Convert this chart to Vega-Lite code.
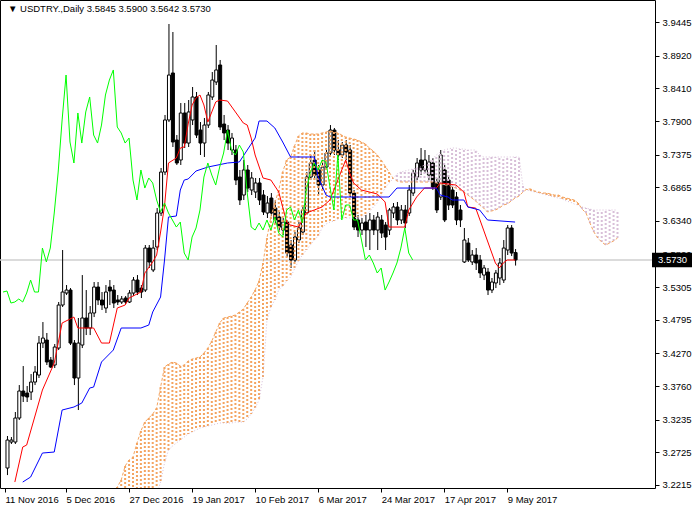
{
"$schema":"https://vega.github.io/schema/vega-lite/v6.json",
"width":655,"height":488,
"autosize":{"type":"none"},
"padding":{"left":0,"top":0,"right":45,"bottom":20},
"background":"white",
"config":{"view":{"stroke":"#000000","strokeWidth":1},"font":"Liberation Sans",
 "axis":{"grid":false,"domain":false,"tickSize":4,"tickColor":"#000000","labelColor":"#000000","labelFont":"Liberation Sans","labelFontSize":9.5,"labelBound":false,"labelOverlap":false,"labelFlush":false}},
"datasets":{
"last":[{"p":3.573,"t":"3.5730"}],
"head":[{"t":"▼  USDTRY.,Daily  3.5845 3.5900 3.5642 3.5730"}],
"candles":[
{"i":1,"o":3.2480,"c":3.2917,"h":3.2980,"l":3.2370},
{"i":2,"o":3.2886,"c":3.2917,"h":3.2964,"l":3.2855},
{"i":3,"o":3.2886,"c":3.3261,"h":3.3355,"l":3.2855},
{"i":4,"o":3.3261,"c":3.3683,"h":3.3776,"l":3.3230},
{"i":5,"o":3.3683,"c":3.3604,"h":3.4073,"l":3.3511},
{"i":6,"o":3.3651,"c":3.3589,"h":3.3761,"l":3.3511},
{"i":7,"o":3.3667,"c":3.3823,"h":3.3948,"l":3.3542},
{"i":8,"o":3.3823,"c":3.3979,"h":3.4073,"l":3.3776},
{"i":9,"o":3.3932,"c":3.4432,"h":3.4542,"l":3.3886},
{"i":10,"o":3.4432,"c":3.4510,"h":3.4760,"l":3.4354},
{"i":11,"o":3.4479,"c":3.4136,"h":3.4589,"l":3.4089},
{"i":12,"o":3.4167,"c":3.4057,"h":3.4214,"l":3.4042},
{"i":13,"o":3.4089,"c":3.4370,"h":3.4417,"l":3.4042},
{"i":14,"o":3.4354,"c":3.5026,"h":3.5073,"l":3.4323},
{"i":15,"o":3.5026,"c":3.5229,"h":3.5885,"l":3.4995},
{"i":16,"o":3.5213,"c":3.5260,"h":3.5338,"l":3.5182},
{"i":17,"o":3.5260,"c":3.4432,"h":3.5291,"l":3.4401},
{"i":18,"o":3.4432,"c":3.3886,"h":3.4479,"l":3.3776},
{"i":19,"o":3.3886,"c":3.4432,"h":3.4823,"l":3.3386},
{"i":20,"o":3.4401,"c":3.4823,"h":3.5494,"l":3.4354},
{"i":21,"o":3.4823,"c":3.4667,"h":3.5260,"l":3.4557},
{"i":22,"o":3.4667,"c":3.4901,"h":3.5010,"l":3.4557},
{"i":23,"o":3.4901,"c":3.5307,"h":3.5385,"l":3.4838},
{"i":24,"o":3.5307,"c":3.5104,"h":3.5385,"l":3.5026},
{"i":25,"o":3.5104,"c":3.5026,"h":3.5229,"l":3.4948},
{"i":26,"o":3.4979,"c":3.5229,"h":3.5338,"l":3.4901},
{"i":27,"o":3.5307,"c":3.5245,"h":3.5416,"l":3.5026},
{"i":28,"o":3.5260,"c":3.5057,"h":3.5338,"l":3.4979},
{"i":29,"o":3.5104,"c":3.5073,"h":3.5182,"l":3.5026},
{"i":30,"o":3.5073,"c":3.5120,"h":3.5166,"l":3.5042},
{"i":31,"o":3.5135,"c":3.5073,"h":3.5166,"l":3.5042},
{"i":32,"o":3.5073,"c":3.5213,"h":3.5260,"l":3.5057},
{"i":33,"o":3.5213,"c":3.5416,"h":3.5463,"l":3.5166},
{"i":34,"o":3.5416,"c":3.5229,"h":3.5494,"l":3.5182},
{"i":35,"o":3.5291,"c":3.5229,"h":3.5338,"l":3.5135},
{"i":36,"o":3.5260,"c":3.5916,"h":3.5963,"l":3.5229},
{"i":37,"o":3.5916,"c":3.5698,"h":3.5963,"l":3.5604},
{"i":38,"o":3.5573,"c":3.5916,"h":3.6041,"l":3.5541},
{"i":39,"o":3.5932,"c":3.6463,"h":3.6541,"l":3.5885},
{"i":40,"o":3.6463,"c":3.7103,"h":3.7166,"l":3.6416},
{"i":41,"o":3.7103,"c":3.7916,"h":3.7994,"l":3.7056},
{"i":42,"o":3.7916,"c":3.8618,"h":3.9415,"l":3.7884},
{"i":43,"o":3.8650,"c":3.7572,"h":3.9290,"l":3.7494},
{"i":44,"o":3.7603,"c":3.7244,"h":3.7681,"l":3.7213},
{"i":45,"o":3.7291,"c":3.8025,"h":3.8181,"l":3.7213},
{"i":46,"o":3.8025,"c":3.7556,"h":3.8181,"l":3.7478},
{"i":47,"o":3.7556,"c":3.8041,"h":3.8228,"l":3.7494},
{"i":48,"o":3.7916,"c":3.8275,"h":3.8431,"l":3.7837},
{"i":49,"o":3.8275,"c":3.7681,"h":3.8353,"l":3.7634},
{"i":50,"o":3.7759,"c":3.7556,"h":3.7884,"l":3.7369},
{"i":51,"o":3.7556,"c":3.7837,"h":3.7947,"l":3.7338},
{"i":52,"o":3.7837,"c":3.8306,"h":3.8353,"l":3.7791},
{"i":53,"o":3.8275,"c":3.8540,"h":3.8665,"l":3.8228},
{"i":54,"o":3.8509,"c":3.8697,"h":3.9087,"l":3.8462},
{"i":55,"o":3.8775,"c":3.7806,"h":3.8853,"l":3.7759},
{"i":56,"o":3.7853,"c":3.7713,"h":3.7994,"l":3.7603},
{"i":57,"o":3.7759,"c":3.7556,"h":3.7837,"l":3.7447},
{"i":58,"o":3.7447,"c":3.7634,"h":3.7713,"l":3.7369},
{"i":59,"o":3.7447,"c":3.6978,"h":3.7525,"l":3.6900},
{"i":60,"o":3.7025,"c":3.6666,"h":3.7135,"l":3.6588},
{"i":61,"o":3.6744,"c":3.7135,"h":3.7291,"l":3.6666},
{"i":62,"o":3.7135,"c":3.6853,"h":3.7213,"l":3.6791},
{"i":63,"o":3.6822,"c":3.7010,"h":3.7103,"l":3.6744},
{"i":64,"o":3.6791,"c":3.6932,"h":3.7010,"l":3.6697},
{"i":65,"o":3.6932,"c":3.6666,"h":3.7010,"l":3.6588},
{"i":66,"o":3.6744,"c":3.6479,"h":3.6822,"l":3.6432},
{"i":67,"o":3.6463,"c":3.6619,"h":3.6728,"l":3.6385},
{"i":68,"o":3.6697,"c":3.6463,"h":3.6775,"l":3.6416},
{"i":69,"o":3.6541,"c":3.6354,"h":3.6666,"l":3.6291},
{"i":70,"o":3.6400,"c":3.6244,"h":3.6479,"l":3.6166},
{"i":71,"o":3.6197,"c":3.6322,"h":3.6385,"l":3.6119},
{"i":72,"o":3.6322,"c":3.5838,"h":3.6354,"l":3.5776},
{"i":73,"o":3.5963,"c":3.5729,"h":3.6041,"l":3.5604},
{"i":74,"o":3.5729,"c":3.6088,"h":3.6166,"l":3.5698},
{"i":75,"o":3.6041,"c":3.6229,"h":3.6322,"l":3.5994},
{"i":76,"o":3.6166,"c":3.6510,"h":3.6588,"l":3.6119},
{"i":77,"o":3.6463,"c":3.7025,"h":3.7103,"l":3.6432},
{"i":78,"o":3.7025,"c":3.7244,"h":3.7369,"l":3.6978},
{"i":79,"o":3.7291,"c":3.7056,"h":3.7447,"l":3.6978},
{"i":80,"o":3.7135,"c":3.6900,"h":3.7213,"l":3.6744},
{"i":81,"o":3.6900,"c":3.7181,"h":3.7291,"l":3.6822},
{"i":82,"o":3.7181,"c":3.7400,"h":3.7478,"l":3.7135},
{"i":83,"o":3.7400,"c":3.7759,"h":3.7837,"l":3.7353},
{"i":84,"o":3.7759,"c":3.7447,"h":3.7791,"l":3.7369},
{"i":85,"o":3.7447,"c":3.7369,"h":3.7603,"l":3.7291},
{"i":86,"o":3.7369,"c":3.7525,"h":3.7572,"l":3.7322},
{"i":87,"o":3.7525,"c":3.7416,"h":3.7603,"l":3.7291},
{"i":88,"o":3.7447,"c":3.6775,"h":3.7525,"l":3.6713},
{"i":89,"o":3.6775,"c":3.6244,"h":3.6822,"l":3.6197},
{"i":90,"o":3.6354,"c":3.6197,"h":3.6432,"l":3.6088},
{"i":91,"o":3.6197,"c":3.6307,"h":3.6385,"l":3.6119},
{"i":92,"o":3.6322,"c":3.6197,"h":3.6432,"l":3.5932},
{"i":93,"o":3.6197,"c":3.6354,"h":3.6463,"l":3.5885},
{"i":94,"o":3.6354,"c":3.6197,"h":3.6432,"l":3.6119},
{"i":95,"o":3.6197,"c":3.6400,"h":3.6479,"l":3.5885},
{"i":96,"o":3.6354,"c":3.6151,"h":3.6432,"l":3.6072},
{"i":97,"o":3.6275,"c":3.6088,"h":3.6322,"l":3.5885},
{"i":98,"o":3.6197,"c":3.6510,"h":3.6541,"l":3.6119},
{"i":99,"o":3.6463,"c":3.6557,"h":3.6619,"l":3.6385},
{"i":100,"o":3.6557,"c":3.6354,"h":3.6635,"l":3.6275},
{"i":101,"o":3.6354,"c":3.6510,"h":3.6588,"l":3.6291},
{"i":102,"o":3.6510,"c":3.6307,"h":3.6588,"l":3.6229},
{"i":103,"o":3.6463,"c":3.6822,"h":3.6900,"l":3.6416},
{"i":104,"o":3.6775,"c":3.7088,"h":3.7135,"l":3.6728},
{"i":105,"o":3.7025,"c":3.7244,"h":3.7322,"l":3.6978},
{"i":106,"o":3.7291,"c":3.7135,"h":3.7478,"l":3.7056},
{"i":107,"o":3.7135,"c":3.7291,"h":3.7447,"l":3.7088},
{"i":108,"o":3.7056,"c":3.7260,"h":3.7369,"l":3.6978},
{"i":109,"o":3.7244,"c":3.6869,"h":3.7322,"l":3.6822},
{"i":110,"o":3.6947,"c":3.6510,"h":3.7010,"l":3.6463},
{"i":111,"o":3.6713,"c":3.7369,"h":3.7447,"l":3.6666},
{"i":112,"o":3.7135,"c":3.6354,"h":3.7213,"l":3.6322},
{"i":113,"o":3.6978,"c":3.6588,"h":3.7056,"l":3.6510},
{"i":114,"o":3.6822,"c":3.6588,"h":3.6900,"l":3.6541},
{"i":115,"o":3.6713,"c":3.6354,"h":3.6791,"l":3.6275},
{"i":116,"o":3.6510,"c":3.6354,"h":3.6588,"l":3.6244},
{"i":117,"o":3.5698,"c":3.6041,"h":3.6229,"l":3.5682},
{"i":118,"o":3.5994,"c":3.5729,"h":3.6072,"l":3.5698},
{"i":119,"o":3.5698,"c":3.5807,"h":3.5885,"l":3.5651},
{"i":120,"o":3.5807,"c":3.5682,"h":3.5916,"l":3.5573},
{"i":121,"o":3.5729,"c":3.5526,"h":3.5807,"l":3.5448},
{"i":122,"o":3.5494,"c":3.5604,"h":3.5651,"l":3.5416},
{"i":123,"o":3.5541,"c":3.5260,"h":3.5604,"l":3.5182},
{"i":124,"o":3.5260,"c":3.5385,"h":3.5448,"l":3.5213},
{"i":125,"o":3.5370,"c":3.5526,"h":3.5573,"l":3.5291},
{"i":126,"o":3.5448,"c":3.5682,"h":3.5760,"l":3.5338},
{"i":127,"o":3.5416,"c":3.5916,"h":3.6041,"l":3.5370},
{"i":128,"o":3.5885,"c":3.6229,"h":3.6275,"l":3.5807},
{"i":129,"o":3.6229,"c":3.5838,"h":3.6275,"l":3.5791},
{"i":130,"o":3.5845,"c":3.5730,"h":3.5900,"l":3.5642}
],
"cloud":[
{"i":28,"a":3.2089,"b":3.1355},{"i":29,"a":3.2183,"b":3.1433},{"i":30,"a":3.2292,"b":3.1511},{"i":31,"a":3.2511,"b":3.1589},
{"i":32,"a":3.2605,"b":3.1668},{"i":33,"a":3.2652,"b":3.1746},{"i":34,"a":3.2870,"b":3.1824},{"i":35,"a":3.3058,"b":3.1902},
{"i":36,"a":3.3198,"b":3.1980},{"i":37,"a":3.3261,"b":3.1980},{"i":38,"a":3.3323,"b":3.1980},{"i":39,"a":3.3417,"b":3.2058},
{"i":40,"a":3.3745,"b":3.2261},{"i":41,"a":3.4057,"b":3.2558},{"i":42,"a":3.4104,"b":3.2761},{"i":43,"a":3.4136,"b":3.2823},
{"i":44,"a":3.4120,"b":3.2870},{"i":45,"a":3.4073,"b":3.2917},{"i":46,"a":3.4089,"b":3.2964},{"i":47,"a":3.4151,"b":3.3011},
{"i":48,"a":3.4182,"b":3.3042},{"i":49,"a":3.4198,"b":3.3073},{"i":50,"a":3.4214,"b":3.3105},{"i":51,"a":3.4276,"b":3.3120},
{"i":52,"a":3.4354,"b":3.3136},{"i":53,"a":3.4464,"b":3.3151},{"i":54,"a":3.4604,"b":3.3167},{"i":55,"a":3.4745,"b":3.3183},
{"i":56,"a":3.4823,"b":3.3183},{"i":57,"a":3.4838,"b":3.3183},{"i":58,"a":3.4854,"b":3.3183},{"i":59,"a":3.4870,"b":3.3198},
{"i":60,"a":3.4917,"b":3.3198},{"i":61,"a":3.4963,"b":3.3198},{"i":62,"a":3.5057,"b":3.3245},{"i":63,"a":3.5151,"b":3.3323},
{"i":64,"a":3.5260,"b":3.3417},{"i":65,"a":3.5401,"b":3.3542},{"i":66,"a":3.5682,"b":3.3901},{"i":67,"a":3.6072,"b":3.4792},
{"i":68,"a":3.6400,"b":3.4995},{"i":69,"a":3.6619,"b":3.5104},{"i":70,"a":3.6822,"b":3.5260},{"i":71,"a":3.7103,"b":3.5323},
{"i":72,"a":3.7291,"b":3.5401},{"i":73,"a":3.7338,"b":3.5463},{"i":74,"a":3.7509,"b":3.5588},{"i":75,"a":3.7666,"b":3.5713},
{"i":76,"a":3.7713,"b":3.5807},{"i":77,"a":3.7713,"b":3.5885},{"i":78,"a":3.7697,"b":3.5963},{"i":79,"a":3.7697,"b":3.6041},
{"i":80,"a":3.7697,"b":3.6104},{"i":81,"a":3.7713,"b":3.6229},{"i":82,"a":3.7728,"b":3.6291},{"i":83,"a":3.7744,"b":3.6322},
{"i":84,"a":3.7728,"b":3.6338},{"i":85,"a":3.7713,"b":3.6369},{"i":86,"a":3.7681,"b":3.6385},{"i":87,"a":3.7650,"b":3.6385},
{"i":88,"a":3.7634,"b":3.6385},{"i":89,"a":3.7619,"b":3.6385},{"i":90,"a":3.7603,"b":3.6400},{"i":91,"a":3.7572,"b":3.6400},
{"i":92,"a":3.7541,"b":3.6432},{"i":93,"a":3.7478,"b":3.6479},{"i":94,"a":3.7431,"b":3.6557},{"i":95,"a":3.7369,"b":3.6619},
{"i":96,"a":3.7291,"b":3.6744},{"i":97,"a":3.7197,"b":3.6853},{"i":98,"a":3.7103,"b":3.6932},{"i":99,"a":3.7010,"b":3.6994},
{"i":100,"a":3.6963,"b":3.7072},{"i":101,"a":3.6947,"b":3.7103},{"i":102,"a":3.6947,"b":3.7119},{"i":103,"a":3.6947,"b":3.7135},
{"i":104,"a":3.6947,"b":3.7150},{"i":105,"a":3.6947,"b":3.7166},{"i":106,"a":3.6947,"b":3.7181},{"i":107,"a":3.6947,"b":3.7213},
{"i":108,"a":3.6947,"b":3.7260},{"i":109,"a":3.6947,"b":3.7306},{"i":110,"a":3.6932,"b":3.7369},{"i":111,"a":3.6916,"b":3.7416},
{"i":112,"a":3.6900,"b":3.7447},{"i":113,"a":3.6900,"b":3.7463},{"i":114,"a":3.6869,"b":3.7478},{"i":115,"a":3.6853,"b":3.7478},
{"i":116,"a":3.6822,"b":3.7463},{"i":117,"a":3.6791,"b":3.7463},{"i":118,"a":3.6744,"b":3.7447},{"i":119,"a":3.6697,"b":3.7447},
{"i":120,"a":3.6650,"b":3.7447},{"i":121,"a":3.6588,"b":3.7369},{"i":122,"a":3.6541,"b":3.7338},{"i":123,"a":3.6479,"b":3.7338},
{"i":124,"a":3.6494,"b":3.7338},{"i":125,"a":3.6510,"b":3.7338},{"i":126,"a":3.6541,"b":3.7338},{"i":127,"a":3.6588,"b":3.7338},
{"i":128,"a":3.6604,"b":3.7338},{"i":129,"a":3.6650,"b":3.7338},{"i":130,"a":3.6697,"b":3.7338},{"i":131,"a":3.6728,"b":3.7338},
{"i":132,"a":3.6791,"b":3.6885},{"i":133,"a":3.6838,"b":3.6822},{"i":134,"a":3.6838,"b":3.6807},{"i":135,"a":3.6807,"b":3.6791},
{"i":136,"a":3.6791,"b":3.6775},{"i":137,"a":3.6775,"b":3.6760},{"i":138,"a":3.6775,"b":3.6744},{"i":139,"a":3.6760,"b":3.6728},
{"i":140,"a":3.6744,"b":3.6713},{"i":141,"a":3.6744,"b":3.6697},{"i":142,"a":3.6713,"b":3.6682},{"i":143,"a":3.6697,"b":3.6650},
{"i":144,"a":3.6682,"b":3.6635},{"i":145,"a":3.6666,"b":3.6604},{"i":146,"a":3.6619,"b":3.6588},{"i":147,"a":3.6525,"b":3.6557},
{"i":148,"a":3.6463,"b":3.6541},{"i":149,"a":3.6307,"b":3.6525},{"i":150,"a":3.6166,"b":3.6510},{"i":151,"a":3.6072,"b":3.6510},
{"i":152,"a":3.6010,"b":3.6510},{"i":153,"a":3.5963,"b":3.6510},{"i":154,"a":3.5994,"b":3.6510},{"i":155,"a":3.6026,"b":3.6510},
{"i":156,"a":3.6072,"b":3.6510}
],
"tenkan":[
{"i":3,"v":3.2261},{"i":5,"v":3.2808},{"i":6,"v":3.2839},{"i":10,"v":3.3698},{"i":13,"v":3.4120},{"i":15,"v":3.4745},
{"i":18,"v":3.4838},{"i":19,"v":3.4667},{"i":23,"v":3.4667},{"i":25,"v":3.4432},{"i":27,"v":3.4432},{"i":29,"v":3.4979},
{"i":31,"v":3.5026},{"i":32,"v":3.5135},{"i":35,"v":3.5229},{"i":36,"v":3.5526},{"i":38,"v":3.5698},{"i":39,"v":3.5807},
{"i":40,"v":3.6166},{"i":41,"v":3.6572},{"i":42,"v":3.7244},{"i":44,"v":3.7322},{"i":45,"v":3.7478},{"i":46,"v":3.7494},
{"i":47,"v":3.7853},{"i":48,"v":3.8150},{"i":49,"v":3.8259},{"i":50,"v":3.8306},{"i":51,"v":3.8150},{"i":52,"v":3.7884},
{"i":53,"v":3.8041},{"i":54,"v":3.8197},{"i":55,"v":3.8228},{"i":57,"v":3.8212},{"i":59,"v":3.8041},{"i":61,"v":3.7869},
{"i":62,"v":3.7837},{"i":63,"v":3.7634},{"i":64,"v":3.7369},{"i":66,"v":3.7010},{"i":68,"v":3.6978},{"i":70,"v":3.6791},
{"i":72,"v":3.6322},{"i":73,"v":3.6275},{"i":75,"v":3.6244},{"i":77,"v":3.6463},{"i":79,"v":3.6510},{"i":81,"v":3.6557},
{"i":83,"v":3.6666},{"i":86,"v":3.7135},{"i":87,"v":3.7291},{"i":88,"v":3.7088},{"i":89,"v":3.6932},{"i":91,"v":3.6822},
{"i":95,"v":3.6760},{"i":97,"v":3.6635},{"i":98,"v":3.6244},{"i":102,"v":3.6244},{"i":103,"v":3.6510},{"i":105,"v":3.6713},
{"i":107,"v":3.6853},{"i":110,"v":3.6853},{"i":111,"v":3.6932},{"i":115,"v":3.6900},{"i":117,"v":3.6791},{"i":118,"v":3.6557},
{"i":120,"v":3.6541},{"i":122,"v":3.6197},{"i":125,"v":3.5682},{"i":126,"v":3.5604},{"i":127,"v":3.5682},{"i":128,"v":3.5729},
{"i":130,"v":3.5729}
],
"kijun":[
{"i":5,"v":3.2261},{"i":7,"v":3.2339},{"i":10,"v":3.2714},{"i":13,"v":3.2730},{"i":15,"v":3.3386},{"i":18,"v":3.3433},
{"i":20,"v":3.3495},{"i":22,"v":3.3729},{"i":23,"v":3.3745},{"i":25,"v":3.4136},{"i":28,"v":3.4323},{"i":30,"v":3.4667},
{"i":35,"v":3.4667},{"i":37,"v":3.4713},{"i":38,"v":3.4917},{"i":40,"v":3.5151},{"i":41,"v":3.5729},{"i":42,"v":3.6400},
{"i":44,"v":3.6416},{"i":45,"v":3.6822},{"i":46,"v":3.6978},{"i":47,"v":3.6994},{"i":49,"v":3.7119},{"i":52,"v":3.7181},
{"i":57,"v":3.7244},{"i":60,"v":3.7260},{"i":62,"v":3.7447},{"i":64,"v":3.7634},{"i":65,"v":3.7900},{"i":67,"v":3.7900},
{"i":69,"v":3.7791},{"i":71,"v":3.7572},{"i":73,"v":3.7338},{"i":79,"v":3.7338},{"i":80,"v":3.7025},{"i":82,"v":3.6744},
{"i":83,"v":3.6713},{"i":98,"v":3.6713},{"i":100,"v":3.6853},{"i":110,"v":3.6853},{"i":111,"v":3.6744},{"i":113,"v":3.6713},
{"i":114,"v":3.6666},{"i":117,"v":3.6666},{"i":118,"v":3.6557},{"i":121,"v":3.6510},{"i":123,"v":3.6354},{"i":130,"v":3.6322}
],
"chikou":[
{"i":0,"v":3.5229},{"i":1,"v":3.5245},{"i":2,"v":3.5057},{"i":3,"v":3.5073},{"i":4,"v":3.5120},{"i":5,"v":3.5073},
{"i":6,"v":3.5213},{"i":7,"v":3.5416},{"i":8,"v":3.5229},{"i":9,"v":3.5229},{"i":10,"v":3.5916},{"i":11,"v":3.5698},
{"i":12,"v":3.5916},{"i":13,"v":3.6463},{"i":14,"v":3.7103},{"i":15,"v":3.7916},{"i":16,"v":3.8618},{"i":17,"v":3.7572},
{"i":18,"v":3.7244},{"i":19,"v":3.8025},{"i":20,"v":3.7556},{"i":21,"v":3.8041},{"i":22,"v":3.8275},{"i":23,"v":3.7681},
{"i":24,"v":3.7556},{"i":25,"v":3.7837},{"i":26,"v":3.8306},{"i":27,"v":3.8540},{"i":28,"v":3.8697},{"i":29,"v":3.7806},
{"i":30,"v":3.7713},{"i":31,"v":3.7556},{"i":32,"v":3.7634},{"i":33,"v":3.6978},{"i":34,"v":3.6666},{"i":35,"v":3.7135},
{"i":36,"v":3.6853},{"i":37,"v":3.7010},{"i":38,"v":3.6932},{"i":39,"v":3.6666},{"i":40,"v":3.6479},{"i":41,"v":3.6619},
{"i":42,"v":3.6463},{"i":43,"v":3.6354},{"i":44,"v":3.6244},{"i":45,"v":3.6322},{"i":46,"v":3.5838},{"i":47,"v":3.5729},
{"i":48,"v":3.6088},{"i":49,"v":3.6229},{"i":50,"v":3.6510},{"i":51,"v":3.7025},{"i":52,"v":3.7244},{"i":53,"v":3.7056},
{"i":54,"v":3.6900},{"i":55,"v":3.7181},{"i":56,"v":3.7400},{"i":57,"v":3.7759},{"i":58,"v":3.7447},{"i":59,"v":3.7369},
{"i":60,"v":3.7525},{"i":61,"v":3.7416},{"i":62,"v":3.6775},{"i":63,"v":3.6244},{"i":64,"v":3.6197},{"i":65,"v":3.6307},
{"i":66,"v":3.6197},{"i":67,"v":3.6354},{"i":68,"v":3.6197},{"i":69,"v":3.6400},{"i":70,"v":3.6151},{"i":71,"v":3.6088},
{"i":72,"v":3.6510},{"i":73,"v":3.6557},{"i":74,"v":3.6354},{"i":75,"v":3.6510},{"i":76,"v":3.6307},{"i":77,"v":3.6822},
{"i":78,"v":3.7088},{"i":79,"v":3.7244},{"i":80,"v":3.7135},{"i":81,"v":3.7291},{"i":82,"v":3.7260},{"i":83,"v":3.6869},
{"i":84,"v":3.6510},{"i":85,"v":3.7369},{"i":86,"v":3.6354},{"i":87,"v":3.6588},{"i":88,"v":3.6588},{"i":89,"v":3.6354},
{"i":90,"v":3.6354},{"i":91,"v":3.6041},{"i":92,"v":3.5729},{"i":93,"v":3.5807},{"i":94,"v":3.5682},{"i":95,"v":3.5526},
{"i":96,"v":3.5604},{"i":97,"v":3.5260},{"i":98,"v":3.5385},{"i":99,"v":3.5526},{"i":100,"v":3.5682},{"i":101,"v":3.5916},
{"i":102,"v":3.6229},{"i":103,"v":3.5838},{"i":104,"v":3.5730}
]
},
"layer":[
{"data":{"name":"last"},"mark":{"type":"rule","color":"#cfcfcf","strokeWidth":1.5},
 "encoding":{"y":{"field":"p","type":"quantitative","title":null,"scale":{"domain":[3.2168,3.979],"nice":false,"zero":false},
  "axis":{"orient":"right","values":[3.9445,3.892,3.841,3.79,3.7375,3.6865,3.634,3.582,3.5305,3.4795,3.427,3.376,3.3235,3.2725,3.2215],
   "format":".4f","title":null,"labelPadding":3,"labelOverlap":false,"tickCount":15}}}},
{"data":{"name":"candles"},"mark":{"type":"rule","color":"#000000","strokeWidth":1,"xOffset":0.5,"clip":true},
 "encoding":{"x":{"field":"i","type":"quantitative","title":null,"scale":{"domain":[0.5,164.25],"nice":false,"zero":false},
  "axis":{"orient":"bottom","values":[0.5,16,32,48,64,80,96,112,128],
   "labelExpr":"datum.value < 1 ? '11 Nov 2016' : datum.value == 16 ? '5 Dec 2016' : datum.value == 32 ? '27 Dec 2016' : datum.value == 48 ? '19 Jan 2017' : datum.value == 64 ? '10 Feb 2017' : datum.value == 80 ? '6 Mar 2017' : datum.value == 96 ? '24 Mar 2017' : datum.value == 112 ? '17 Apr 2017' : '9 May 2017'",
   "title":null,"labelAlign":"left","labelPadding":2,"labelOverlap":false}},
  "y":{"field":"l","type":"quantitative","title":null,"scale":{"domain":[3.2168,3.979],"nice":false,"zero":false}},
  "y2":{"field":"h"}}},
{"data":{"name":"candles"},"mark":{"type":"bar","orient":"vertical","size":3,"stroke":"#000000","strokeWidth":1,"xOffset":0.5,"clip":true},
 "encoding":{"x":{"field":"i","type":"quantitative","title":null,"scale":{"domain":[0.5,164.25],"nice":false,"zero":false}},
  "y":{"field":"o","type":"quantitative","title":null,"scale":{"domain":[3.2168,3.979],"nice":false,"zero":false}},
  "y2":{"field":"c"},
  "fill":{"condition":{"test":"datum.o > datum.c","value":"#000000"},"value":"#ffffff"}}},
{"data":{"name":"cloud"},"mark":{"type":"rule","strokeWidth":2,"strokeDash":[2,2],"clip":true},
 "encoding":{"x":{"field":"i","type":"quantitative","title":null,"scale":{"domain":[0.5,164.25],"nice":false,"zero":false}},
  "y":{"field":"a","type":"quantitative","title":null,"scale":{"domain":[3.2168,3.979],"nice":false,"zero":false}},
  "y2":{"field":"b"},
  "color":{"condition":{"test":"datum.a >= datum.b","value":"#F4A460"},"value":"#D8BFD8"}}},
{"data":{"name":"cloud"},"mark":{"type":"line","color":"#F4A460","strokeWidth":1,"strokeDash":[3,2],"clip":true},
 "encoding":{"x":{"field":"i","type":"quantitative","title":null,"scale":{"domain":[0.5,164.25],"nice":false,"zero":false}},
  "y":{"field":"a","type":"quantitative","title":null,"scale":{"domain":[3.2168,3.979],"nice":false,"zero":false}}}},
{"data":{"name":"cloud"},"mark":{"type":"line","color":"#D8BFD8","strokeWidth":1,"strokeDash":[1,2],"clip":true},
 "encoding":{"x":{"field":"i","type":"quantitative","title":null,"scale":{"domain":[0.5,164.25],"nice":false,"zero":false}},
  "y":{"field":"b","type":"quantitative","title":null,"scale":{"domain":[3.2168,3.979],"nice":false,"zero":false}}}},
{"data":{"name":"tenkan"},"mark":{"type":"line","color":"#FF0000","strokeWidth":1,"clip":true},
 "encoding":{"x":{"field":"i","type":"quantitative","title":null,"scale":{"domain":[0.5,164.25],"nice":false,"zero":false}},
  "y":{"field":"v","type":"quantitative","title":null,"scale":{"domain":[3.2168,3.979],"nice":false,"zero":false}}}},
{"data":{"name":"kijun"},"mark":{"type":"line","color":"#0000FF","strokeWidth":1,"clip":true},
 "encoding":{"x":{"field":"i","type":"quantitative","title":null,"scale":{"domain":[0.5,164.25],"nice":false,"zero":false}},
  "y":{"field":"v","type":"quantitative","title":null,"scale":{"domain":[3.2168,3.979],"nice":false,"zero":false}}}},
{"data":{"name":"chikou"},"mark":{"type":"line","color":"#00FF00","strokeWidth":1,"clip":true},
 "encoding":{"x":{"field":"i","type":"quantitative","title":null,"scale":{"domain":[0.5,164.25],"nice":false,"zero":false}},
  "y":{"field":"v","type":"quantitative","title":null,"scale":{"domain":[3.2168,3.979],"nice":false,"zero":false}}}},
{"data":{"name":"last"},"mark":{"type":"point","filled":true,"color":"#000000","opacity":1,"size":1600,"shape":"M0,-0.36L2,-0.36L2,0.36L0,0.36Z","xOffset":2,"clip":false},
 "encoding":{"x":{"datum":164.25,"type":"quantitative","title":null,"scale":{"domain":[0.5,164.25],"nice":false,"zero":false}},
  "y":{"field":"p","type":"quantitative","title":null,"scale":{"domain":[3.2168,3.979],"nice":false,"zero":false}}}},
{"data":{"name":"last"},"mark":{"type":"text","color":"#ffffff","align":"left","baseline":"middle","dx":8,"font":"Liberation Sans","fontSize":9.5,"clip":false},
 "encoding":{"x":{"datum":164.25,"type":"quantitative","title":null,"scale":{"domain":[0.5,164.25],"nice":false,"zero":false}},
  "y":{"field":"p","type":"quantitative","title":null,"scale":{"domain":[3.2168,3.979],"nice":false,"zero":false}},
  "text":{"field":"t"}}},
{"data":{"name":"head"},"mark":{"type":"text","color":"#000000","align":"left","baseline":"top","dx":3,"dy":4,"font":"Liberation Sans","fontSize":9.5},
 "encoding":{"x":{"datum":0.5,"type":"quantitative","title":null,"scale":{"domain":[0.5,164.25],"nice":false,"zero":false}},
  "y":{"datum":3.979,"type":"quantitative","title":null,"scale":{"domain":[3.2168,3.979],"nice":false,"zero":false}},
  "text":{"field":"t"}}}
]
}
